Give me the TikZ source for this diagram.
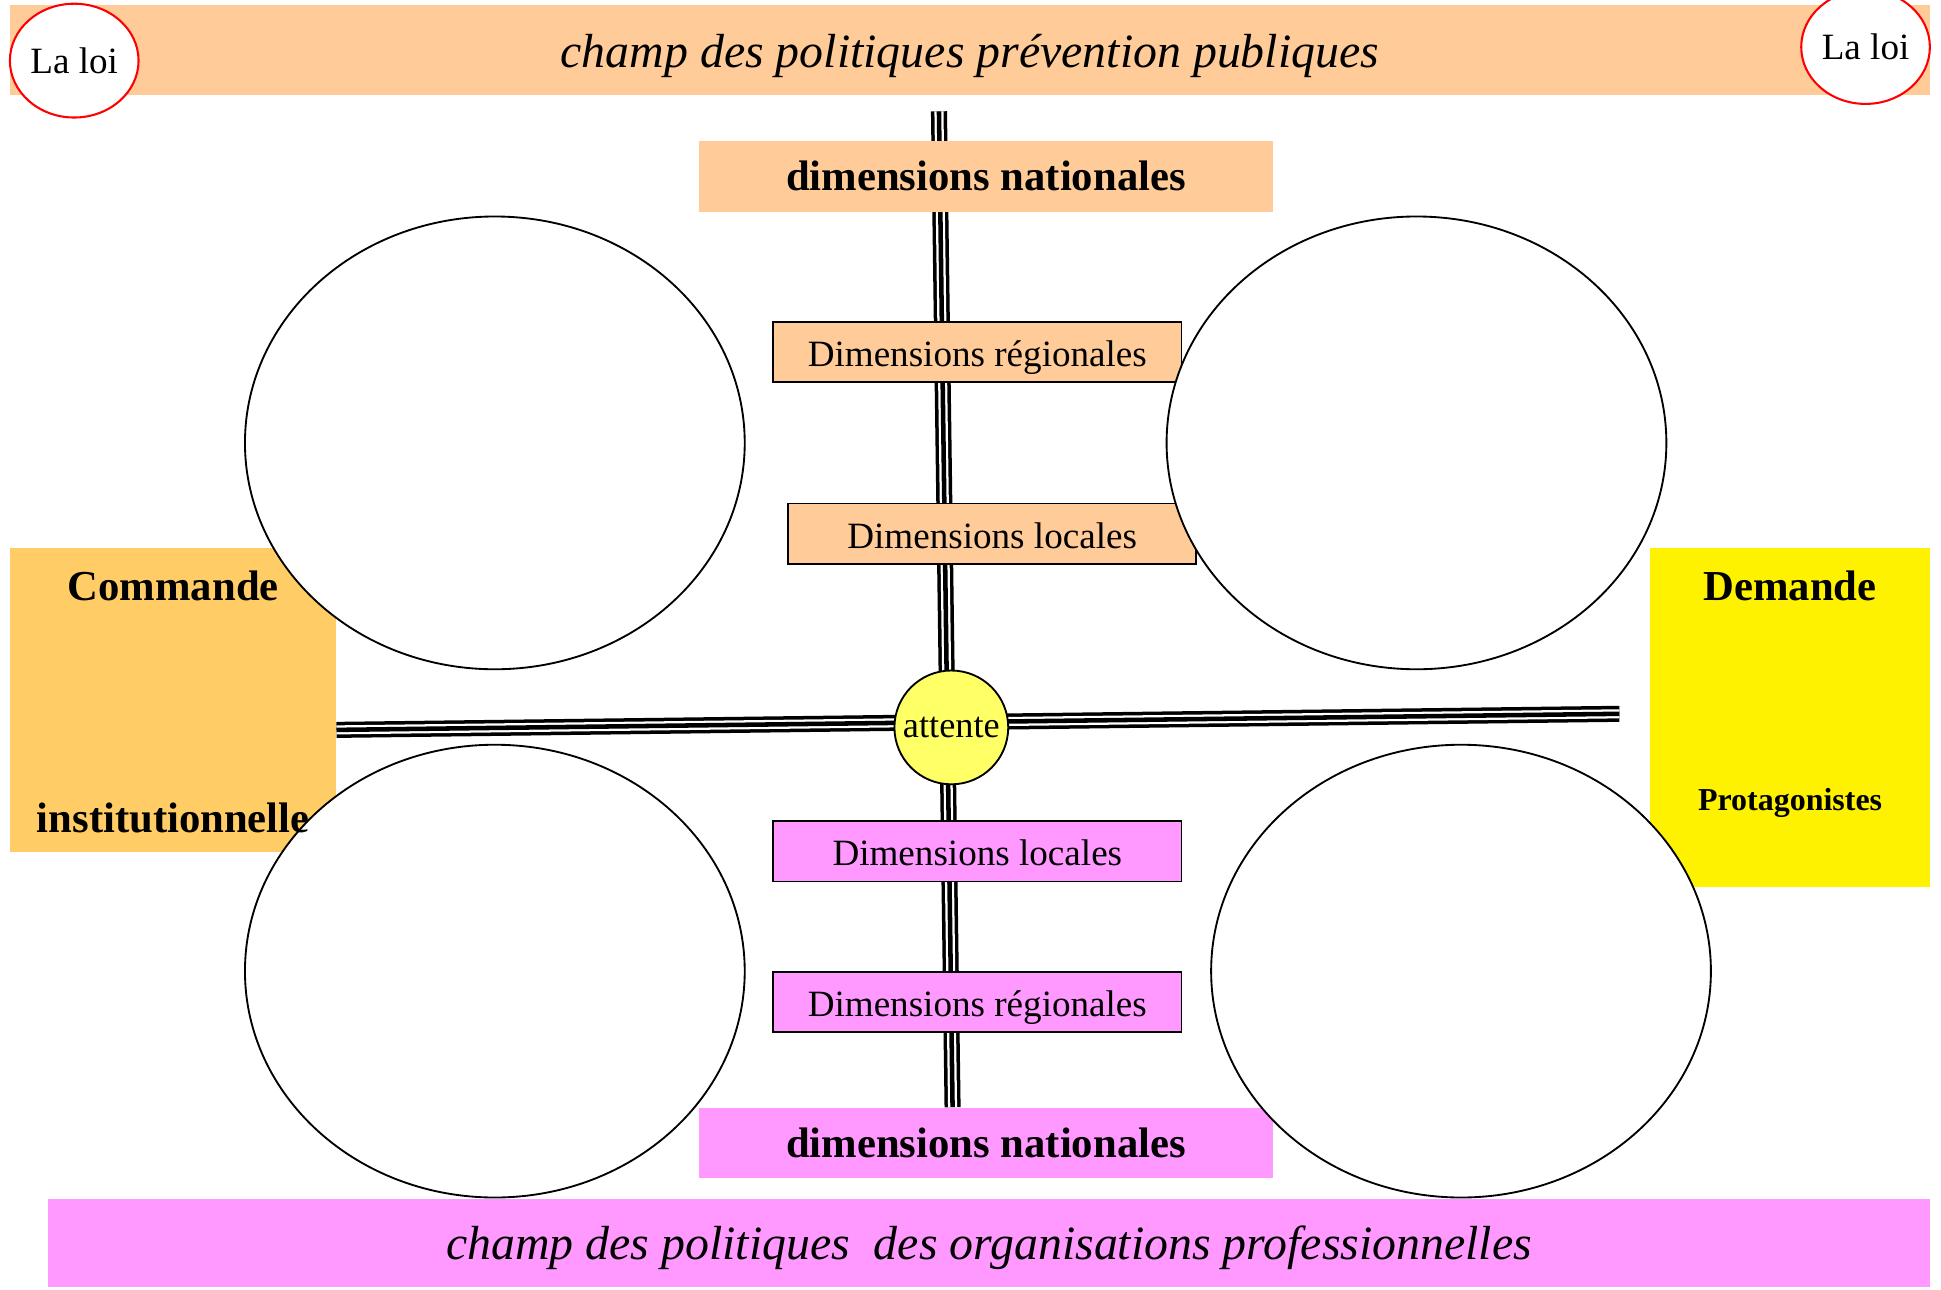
\documentclass[tikz,border=0pt]{standalone}
\usepackage{fontspec}
\setmainfont{Liberation Serif}
\usetikzlibrary{shapes.geometric}
\definecolor{peche}{HTML}{FFCC99}
\definecolor{orangeclair}{HTML}{FFCC66}
\definecolor{rose}{HTML}{FF99FF}
\definecolor{jaunepale}{HTML}{FFFF66}

\begin{document}
\begin{tikzpicture}[x=0.6pt, y=-0.6pt,
    bande/.style={fill=#1, inner sep=0pt, text height=18.2pt, text depth=1.6pt, font=\fontsize{23.2}{28}\selectfont\itshape},
    national/.style={fill=#1, minimum width=278.4pt, minimum height=34.2pt, font=\fontsize{20.7}{24}\selectfont\bfseries},
    dimbox/.style={draw, line width=0.9pt, fill=#1, minimum width=198pt, minimum height=29.4pt, text height=15.5pt, text depth=1.5pt, font=\fontsize{18}{21}\selectfont},
    loi/.style={ellipse, draw=red, line width=1pt, fill=white, minimum width=62.4pt, minimum height=55.2pt, inner sep=0pt, font=\fontsize{18}{21}\selectfont},
    bulle/.style={ellipse, draw, line width=0.9pt, fill=white, minimum width=242.4pt, minimum height=219.6pt},
    triple/.style={line width=7.8pt, postaction={draw=white, line width=4.4pt}, postaction={draw=black, line width=2.2pt}},
    titre/.style={font=\fontsize{20.7}{24}\selectfont\bfseries}]
    \clip (0,0) rectangle (1569,1042);

    % Les deux champs
    \node[bande=peche, minimum width=931.2pt, minimum height=43.8pt] (champhaut) at (784,40.5) {champ des politiques prévention publiques};
    \node[bande=rose, minimum width=912.6pt, minimum height=42.6pt] (champbas) at (799.5,1004.5) {champ des politiques\ \ des organisations professionnelles};

    % La loi
    \node[loi] (loig) at (60,49) {La loi};
    \node[loi] (loid) at (1508,38) {La loi};

    % Commande et demande
    \node[fill=orangeclair, minimum width=158.4pt, minimum height=147.6pt] (commande) at (140,566) {};
    \node[fill=yellow, minimum width=135.6pt, minimum height=164.4pt] (demande) at (1447,580) {};

    % Axes
    \coordinate (nord) at (759,90);
    \coordinate (sud) at (770,895);
    \coordinate (ouest) at (272,590);
    \coordinate (est) at (1309,577);
    \draw[triple] (nord) -- (sud);
    \draw[triple] (ouest) -- (est);

    % Les dimensions
    \node[national=peche] (nathaut) at (797,142.5) {dimensions nationales};
    \node[dimbox=peche] (reghaut) at (790,284.5) {Dimensions régionales};
    \node[dimbox=peche] (lochaut) at (802,431.5) {Dimensions locales};
    \node[circle, draw, line width=0.9pt, fill=jaunepale, minimum size=55.2pt, inner sep=0pt, font=\fontsize{17.6}{20}\selectfont] (attente) at (769,588) {attente};
    \node[dimbox=rose] (locbas) at (790,688) {Dimensions locales};
    \node[dimbox=rose] (regbas) at (790,810) {Dimensions régionales};
    \node[national=rose] (natbas) at (797,924) {dimensions nationales};

    % Les quatre bulles
    \node[bulle] (hg) at (400,358) {};
    \node[bulle] (hd) at (1145,358) {};
    \node[bulle] (bg) at (400,785) {};
    \node[bulle] (bd) at (1181,785) {};

    % Textes
    \node[titre] (tcommande) at (140,474) {Commande};
    \node[titre] (tinstit) at (140,661) {institutionnelle};
    \node[titre] (tdemande) at (1447,474) {Demande};
    \node[font=\fontsize{15.5}{18}\selectfont\bfseries] (tprota) at (1447,649) {Protagonistes};
\end{tikzpicture}
\end{document}
